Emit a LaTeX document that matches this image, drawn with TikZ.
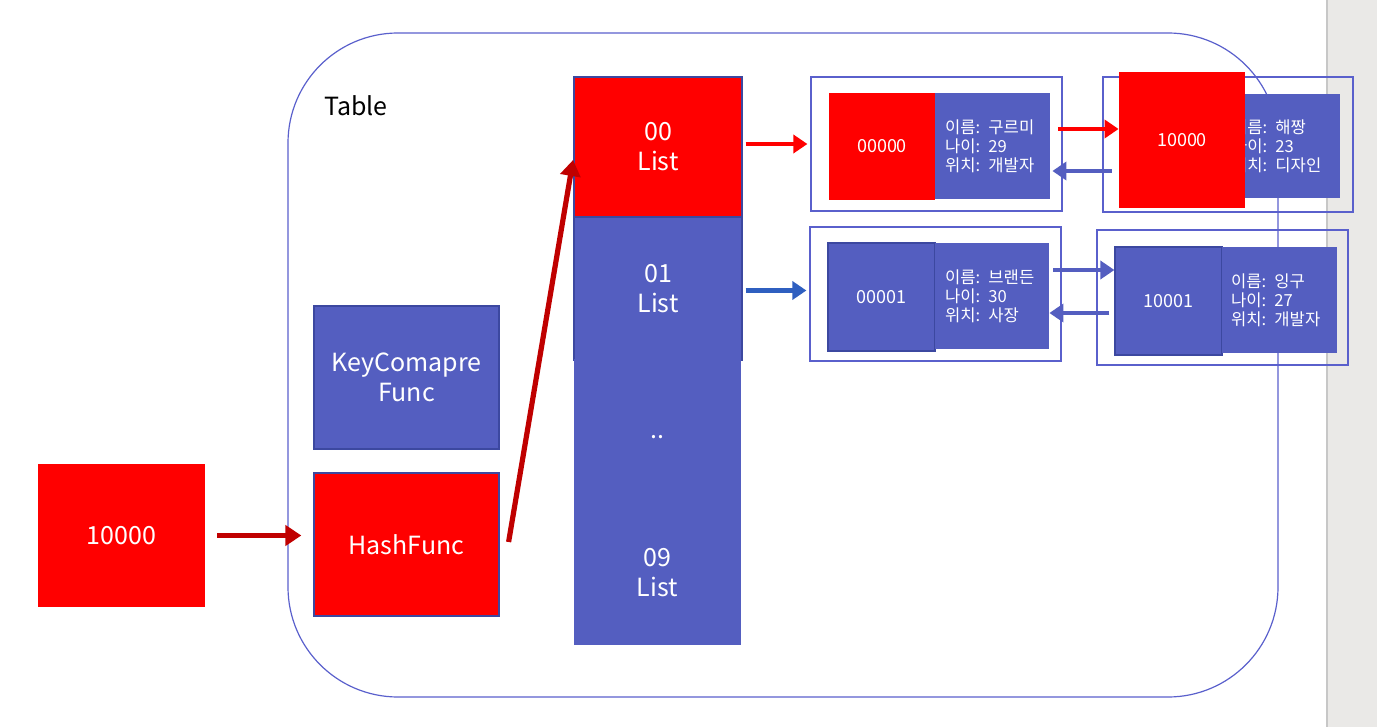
\documentclass[tikz,border=0pt]{standalone}
\usepackage{fontspec}
\setmainfont{Noto Sans CJK KR}
\usetikzlibrary{arrows.meta}

\definecolor{boxred}{RGB}{255,0,0}
\definecolor{arrowred}{RGB}{192,0,0}
\definecolor{boxblue}{RGB}{84,94,192}
\definecolor{edgeblue}{RGB}{60,72,160}
\definecolor{lineblue}{RGB}{90,96,204}
\definecolor{linkblue}{RGB}{47,95,192}
\definecolor{panegray}{RGB}{234,233,231}

\newcommand\lblfont{\fontsize{12.5}{15}\selectfont}
\newcommand\keyfont{\fontsize{9}{11}\selectfont}
\newcommand\infofont{\fontsize{8.3}{9.5}\selectfont}

\tikzset{
  redbox/.style={fill=boxred, text=white, inner sep=0pt, align=center},
  bluebox/.style={fill=boxblue, text=white, inner sep=0pt, align=center},
  edged/.style={draw=edgeblue, line width=0.6pt},
  outerbox/.style={draw=lineblue, line width=0.6pt, inner sep=0pt},
  infobox/.style={bluebox, align=left, font=\infofont},
  thickred/.style={draw=arrowred, line width=2.6pt,
    -{Triangle[length=8pt,width=10pt]}},
  thinred/.style={draw=boxred, line width=2.4pt,
    -{Triangle[length=7pt,width=9pt]}},
  backblue/.style={draw=boxblue, line width=2.4pt,
    -{Triangle[length=7pt,width=9pt]}},
  fwdblue/.style={draw=linkblue, line width=2.4pt,
    -{Triangle[length=7pt,width=9pt]}}
}

\begin{document}
\begin{tikzpicture}[x=0.5pt, y=-0.5pt]
  \useasboundingbox (0,0) rectangle (1377,727);
  % side pane
  \fill[panegray] (1327,0) rectangle (1377,727);
  \draw[black!22, line width=0.8pt] (1327,0) -- (1327,727);

  % table frame
  \node[draw=lineblue, line width=0.6pt, rounded corners=55pt,
    minimum width=495pt, minimum height=332pt] (table) at (783,365) {};
  \node[font=\lblfont, inner sep=0pt] (title) at (356,106) {Table};

  % key and functions
  \node[redbox, font=\lblfont, minimum width=83.5pt, minimum height=71.5pt] (key) at (121.5,535.5) {10000};
  \node[bluebox, edged, font=\lblfont, minimum width=92.5pt, minimum height=71.5pt] (cmp) at (406.5,377.5) {KeyComapre\\Func};
  \node[redbox, edged, font=\lblfont, minimum width=92.5pt, minimum height=71.5pt] (hash) at (406.5,544.5) {HashFunc};

  % bucket column
  \node[redbox, edged, font=\lblfont, minimum width=84pt, minimum height=70pt] (list00) at (658,147) {00\\List};
  \node[bluebox, edged, font=\lblfont, minimum width=84pt, minimum height=71.5pt] (list01) at (658,288.5) {01\\List};
  \node[bluebox, font=\lblfont, minimum width=83.5pt, minimum height=70.5pt] (dots) at (657.5,430) {\raisebox{0pt}[8pt][0pt]{..}};
  \node[bluebox, font=\lblfont, minimum width=83.5pt, minimum height=72.5pt] (list09) at (657.5,572.5) {09\\List};

  % chain of bucket 00
  \node[outerbox, minimum width=125.5pt, minimum height=67pt] (outer0) at (936.5,144) {};
  \node[redbox, font=\keyfont, minimum width=53pt, minimum height=53.5pt] (key0) at (882,146.5) {00000};
  \node[infobox, inner xsep=5pt, text width=47.5pt, minimum height=53pt] (val0) at (992.5,146) {이름: 구르미\\나이: 29\\위치: 개발자};
  \node[outerbox, minimum width=125pt, minimum height=67.5pt] (outer0r) at (1228,144.5) {};
  \node[infobox, inner xsep=6pt, text width=48pt, minimum height=52pt] (val0r) at (1280,146) {이름: 해짱\\나이: 23\\위치: 디자인};
  \node[redbox, font=\keyfont, minimum width=63pt, minimum height=68pt] (key0r) at (1182,140) {10000};

  % chain of bucket 01
  \node[outerbox, minimum width=125.5pt, minimum height=67pt] (outer1) at (935.5,294) {};
  \node[bluebox, edged, font=\keyfont, minimum width=53.5pt, minimum height=54pt] (key1) at (881.5,297) {00001};
  \node[infobox, inner xsep=5pt, text width=47pt, minimum height=53pt] (val1) at (992,296) {이름: 브랜든\\나이: 30\\위치: 사장};
  \node[outerbox, minimum width=125.5pt, minimum height=67.5pt] (outer1r) at (1222.5,297.5) {};
  \node[bluebox, edged, font=\keyfont, minimum width=53.5pt, minimum height=54pt] (key1r) at (1168.5,301) {10001};
  \node[infobox, inner xsep=4.5pt, text width=48.5pt, minimum height=53pt] (val1r) at (1279.5,300) {이름: 잉구\\나이: 27\\위치: 개발자};

  % arrows
  \draw[thickred, shorten <=6pt, shorten >=6pt] (key.east) -- (key.east -| hash.west);
  \draw[thickred, shorten >=1pt] ([xshift=4.5pt,yshift=1.25pt]hash.east) -- ([yshift=-5.5pt]list00.west);
  \draw[thinred, shorten <=1.5pt, shorten >=1.5pt] (list00.east |- outer0.west) -- (outer0.west);
  \draw[fwdblue, shorten <=1.5pt, shorten >=1.5pt] ([yshift=-1pt]list01.east) -- ([yshift=-1pt]list01.east -| outer1.west);
  \draw[thinred, shorten <=4pt] ([yshift=8.5pt]val0.east) -- ([yshift=8.5pt]val0.east -| key0r.west);
  \draw[backblue, shorten <=3.5pt, shorten >=1pt] ([yshift=-12.5pt]val0.east -| key0r.west) -- ([yshift=-12.5pt]val0.east);
  \draw[backblue, shorten <=2pt] ([yshift=13pt]val1.east) -- ([yshift=13pt]val1.east -| key1r.west);
  \draw[backblue, shorten <=2.5pt] ([yshift=-8.5pt]val1.east -| key1r.west) -- ([yshift=-8.5pt]val1.east);
\end{tikzpicture}
\end{document}
